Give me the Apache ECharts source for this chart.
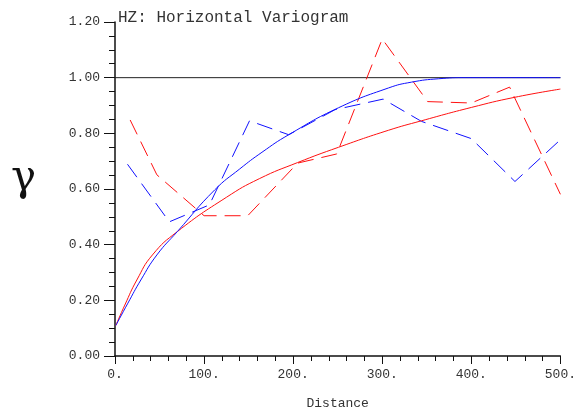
<!DOCTYPE html>
<html>
<head>
<meta charset="utf-8">
<script src="https://cdn.jsdelivr.net/npm/echarts@6/dist/echarts.min.js"></script>
<style>
  html, body { margin: 0; padding: 0; background: #fff; }
  #main { width: 579px; height: 418px; }
</style>
</head>
<body>
<div id="main"></div>
<script>
// experimental variograms (dashed)
var lagRed = [17, 47, 100, 149, 205, 249, 300, 351, 400, 443, 500];
var gamRed = [0.848, 0.651, 0.504, 0.504, 0.693, 0.726, 1.139, 0.914, 0.909, 0.966, 0.581];
var lagBlue = [14, 61, 106, 151, 195, 247, 301, 344, 400, 449, 500];
var gamBlue = [0.689, 0.482, 0.543, 0.845, 0.795, 0.885, 0.923, 0.843, 0.781, 0.627, 0.777];

// fitted models (solid)
var modelRedX = [1, 11, 24.5, 42, 70, 125, 162, 205, 251, 307, 344, 400, 448, 500];
var modelRedY = [0.11, 0.183, 0.273, 0.363, 0.447, 0.57, 0.637, 0.695, 0.75, 0.811, 0.845, 0.893, 0.929, 0.959];
var modelBlueX = [1, 14.5, 29, 47, 70, 112, 140, 165, 195, 251, 307, 333, 363, 395, 450, 500];
var modelBlueY = [0.11, 0.19, 0.273, 0.363, 0.447, 0.597, 0.672, 0.732, 0.795, 0.892, 0.963, 0.984, 0.996, 1.0, 1.0, 1.0];

var sillX = [0, 500];
var sillY = [1, 1];

var xTicks = [0, 100, 200, 300, 400, 500];
var yTicks = [0, 0.2, 0.4, 0.6, 0.8, 1.0, 1.2];

function pairs(xs, ys) {
    return xs.map(function (x, i) { return [x, ys[i]]; });
}

var mono = 'Liberation Mono';
var chart = echarts.init(document.getElementById('main'));

option = {
    animation: false,
    title: {
        text: 'HZ: Horizontal Variogram',
        left: 113,
        top: 5,
        textStyle: { fontFamily: mono, fontSize: 16, fontWeight: 'normal', color: '#333' }
    },
    graphic: [{
        type: 'text',
        left: 11,
        top: 158,
        style: { text: 'γ', fontFamily: 'DejaVu Serif', fontSize: 42, fill: '#111' }
    }],
    grid: { left: 115, right: 16, top: 22, bottom: 62 },
    xAxis: {
        type: 'value',
        min: xTicks[0],
        max: xTicks[xTicks.length - 1],
        interval: 100,
        name: 'Distance',
        nameLocation: 'middle',
        nameGap: 41,
        nameTextStyle: { fontFamily: mono, fontSize: 13, color: '#333' },
        axisLine: { lineStyle: { color: '#111', width: 1.5 } },
        axisTick: { length: 8, lineStyle: { color: '#111' } },
        minorTick: { show: true, splitNumber: 5, length: 5, lineStyle: { color: '#111' } },
        splitLine: { show: false },
        axisLabel: {
            margin: 12,
            fontFamily: mono, fontSize: 13, color: '#333',
            formatter: function (v) { return v + '.'; }
        }
    },
    yAxis: {
        type: 'value',
        min: yTicks[0],
        max: yTicks[yTicks.length - 1],
        interval: 0.2,
        axisLine: { show: true, lineStyle: { color: '#111', width: 1.5 } },
        axisTick: { show: true, length: 11, lineStyle: { color: '#111' } },
        minorTick: { show: true, splitNumber: 4, length: 6, lineStyle: { color: '#111' } },
        splitLine: { show: false },
        axisLabel: {
            margin: 15,
            padding: [0, 0, 6, 0],
            fontFamily: mono, fontSize: 13, color: '#333',
            formatter: function (v) { return v.toFixed(2); }
        }
    },
    series: [
        {
            type: 'line', data: pairs(sillX, sillY), symbol: 'none', silent: true,
            lineStyle: { color: '#222', width: 1 }
        },
        {
            type: 'line', data: pairs(lagRed, gamRed), symbol: 'none',
            lineStyle: { color: '#ff1010', width: 1, type: [16, 8] }
        },
        {
            type: 'line', data: pairs(lagBlue, gamBlue), symbol: 'none',
            lineStyle: { color: '#1010ff', width: 1, type: [16, 8] }
        },
        {
            type: 'line', data: pairs(modelRedX, modelRedY), symbol: 'none',
            smooth: 0.5,
            lineStyle: { color: '#ff1010', width: 1 }
        },
        {
            type: 'line', data: pairs(modelBlueX, modelBlueY), symbol: 'none',
            smooth: 0.5,
            lineStyle: { color: '#1010ff', width: 1 }
        }
    ]
};

chart.setOption(option);
</script>
</body>
</html>
